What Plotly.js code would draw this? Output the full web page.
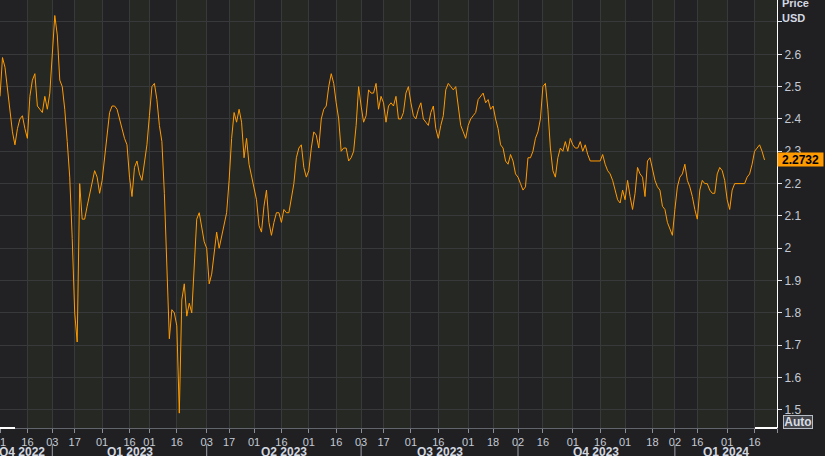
<!DOCTYPE html>
<html>
<head>
<meta charset="utf-8">
<script src="https://cdn.plot.ly/plotly-3.0.1.min.js"></script>
<style>
html,body{margin:0;padding:0;background:#202023;overflow:hidden}
#chart{width:825px;height:456px}
</style>
</head>
<body>
<div id="chart"></div>
<script>
// ---- data (trading days) ----
const dates = [
 "2022-12-01","2022-12-02","2022-12-05","2022-12-06","2022-12-07","2022-12-08","2022-12-09","2022-12-12","2022-12-13","2022-12-14","2022-12-15","2022-12-16","2022-12-19","2022-12-20","2022-12-21","2022-12-22","2022-12-23","2022-12-27","2022-12-28","2022-12-29","2022-12-30",
 "2023-01-03","2023-01-04","2023-01-05","2023-01-06","2023-01-09","2023-01-10","2023-01-11","2023-01-12","2023-01-13","2023-01-17","2023-01-18","2023-01-19","2023-01-20","2023-01-23","2023-01-24","2023-01-25","2023-01-26","2023-01-27","2023-01-30","2023-01-31",
 "2023-02-01","2023-02-02","2023-02-03","2023-02-06","2023-02-07","2023-02-08","2023-02-09","2023-02-10","2023-02-13","2023-02-14","2023-02-15","2023-02-16","2023-02-17","2023-02-21","2023-02-22","2023-02-23","2023-02-24","2023-02-27","2023-02-28",
 "2023-03-01","2023-03-02","2023-03-03","2023-03-06","2023-03-07","2023-03-08","2023-03-09","2023-03-10","2023-03-13","2023-03-14","2023-03-15","2023-03-16","2023-03-17","2023-03-20","2023-03-21","2023-03-22","2023-03-23","2023-03-24","2023-03-27","2023-03-28","2023-03-29","2023-03-30","2023-03-31",
 "2023-04-03","2023-04-04","2023-04-05","2023-04-06","2023-04-10","2023-04-11","2023-04-12","2023-04-13","2023-04-14","2023-04-17","2023-04-18","2023-04-19","2023-04-20","2023-04-21","2023-04-24","2023-04-25","2023-04-26","2023-04-27","2023-04-28",
 "2023-05-01","2023-05-02","2023-05-03","2023-05-04","2023-05-05","2023-05-08","2023-05-09","2023-05-10","2023-05-11","2023-05-12","2023-05-15","2023-05-16","2023-05-17","2023-05-18","2023-05-19","2023-05-22","2023-05-23","2023-05-24","2023-05-25","2023-05-26","2023-05-30","2023-05-31",
 "2023-06-01","2023-06-02","2023-06-05","2023-06-06","2023-06-07","2023-06-08","2023-06-09","2023-06-12","2023-06-13","2023-06-14","2023-06-15","2023-06-16","2023-06-20","2023-06-21","2023-06-22","2023-06-23","2023-06-26","2023-06-27","2023-06-28","2023-06-29","2023-06-30",
 "2023-07-03","2023-07-05","2023-07-06","2023-07-07","2023-07-10","2023-07-11","2023-07-12","2023-07-13","2023-07-14","2023-07-17","2023-07-18","2023-07-19","2023-07-20","2023-07-21","2023-07-24","2023-07-25","2023-07-26","2023-07-27","2023-07-28","2023-07-31",
 "2023-08-01","2023-08-02","2023-08-03","2023-08-04","2023-08-07","2023-08-08","2023-08-09","2023-08-10","2023-08-11","2023-08-14","2023-08-15","2023-08-16","2023-08-17","2023-08-18","2023-08-21","2023-08-22","2023-08-23","2023-08-24","2023-08-25","2023-08-28","2023-08-29","2023-08-30","2023-08-31",
 "2023-09-01","2023-09-05","2023-09-06","2023-09-07","2023-09-08","2023-09-11","2023-09-12","2023-09-13","2023-09-14","2023-09-15","2023-09-18","2023-09-19","2023-09-20","2023-09-21","2023-09-22","2023-09-25","2023-09-26","2023-09-27","2023-09-28","2023-09-29",
 "2023-10-02","2023-10-03","2023-10-04","2023-10-05","2023-10-06","2023-10-09","2023-10-10","2023-10-11","2023-10-12","2023-10-13","2023-10-16","2023-10-17","2023-10-18","2023-10-19","2023-10-20","2023-10-23","2023-10-24","2023-10-25","2023-10-26","2023-10-27","2023-10-30","2023-10-31",
 "2023-11-01","2023-11-02","2023-11-03","2023-11-06","2023-11-07","2023-11-08","2023-11-09","2023-11-10","2023-11-13","2023-11-14","2023-11-15","2023-11-16","2023-11-17","2023-11-20","2023-11-21","2023-11-22","2023-11-24","2023-11-27","2023-11-28","2023-11-29","2023-11-30",
 "2023-12-01","2023-12-04","2023-12-05","2023-12-06","2023-12-07","2023-12-08","2023-12-11","2023-12-12","2023-12-13","2023-12-14","2023-12-15","2023-12-18","2023-12-19","2023-12-20","2023-12-21","2023-12-22","2023-12-26","2023-12-27","2023-12-28","2023-12-29",
 "2024-01-02","2024-01-03","2024-01-04","2024-01-05","2024-01-08","2024-01-09","2024-01-10","2024-01-11","2024-01-12","2024-01-16","2024-01-17","2024-01-18","2024-01-19","2024-01-22","2024-01-23","2024-01-24","2024-01-25","2024-01-26","2024-01-29","2024-01-30","2024-01-31",
 "2024-02-01","2024-02-02","2024-02-05","2024-02-06","2024-02-07","2024-02-08","2024-02-09","2024-02-12","2024-02-13","2024-02-14","2024-02-15","2024-02-16","2024-02-20","2024-02-21","2024-02-22","2024-02-23"
];
const prices = [
 2.47,2.59,2.56,2.49,2.43,2.36,2.32,2.37,2.40,2.41,2.37,2.34,2.47,2.52,2.54,2.44,2.43,2.42,2.47,2.43,2.48,
 2.59,2.72,2.66,2.52,2.50,2.43,2.33,2.22,2.03,1.80,1.71,2.20,2.09,2.09,2.13,2.17,2.21,2.24,2.22,2.17,
 2.21,2.28,2.34,2.42,2.44,2.44,2.43,2.40,2.37,2.34,2.32,2.22,2.16,2.25,2.27,2.23,2.21,2.26,2.32,
 2.41,2.50,2.51,2.46,2.38,2.33,2.17,1.95,1.72,1.81,1.80,1.76,1.49,1.84,1.89,1.79,1.83,1.80,1.97,2.09,2.11,2.07,2.02,
 2.00,1.89,1.92,1.99,2.05,2.00,2.04,2.07,2.11,2.21,2.34,2.42,2.39,2.43,2.39,2.28,2.34,2.26,2.22,
 2.19,2.15,2.07,2.05,2.13,2.18,2.08,2.04,2.08,2.11,2.11,2.08,2.12,2.11,2.11,2.15,2.20,2.28,2.31,2.32,2.25,2.22,
 2.24,2.31,2.36,2.35,2.31,2.40,2.43,2.44,2.50,2.54,2.51,2.45,2.40,2.30,2.31,2.31,2.27,2.28,2.30,2.38,2.50,
 2.44,2.39,2.41,2.49,2.48,2.48,2.51,2.43,2.47,2.45,2.39,2.44,2.45,2.44,2.47,2.40,2.40,2.42,2.48,2.50,
 2.45,2.41,2.40,2.43,2.45,2.40,2.39,2.38,2.42,2.44,2.37,2.34,2.38,2.41,2.49,2.51,2.50,2.49,2.50,2.43,2.38,2.36,2.34,
 2.38,2.40,2.41,2.42,2.46,2.47,2.48,2.45,2.46,2.43,2.44,2.40,2.37,2.32,2.31,2.27,2.26,2.29,2.27,2.23,
 2.22,2.20,2.18,2.19,2.28,2.28,2.30,2.34,2.36,2.40,2.50,2.51,2.43,2.31,2.24,2.22,2.28,2.31,2.30,2.33,2.30,2.34,
 2.32,2.31,2.31,2.33,2.30,2.32,2.29,2.27,2.27,2.27,2.27,2.27,2.29,2.26,2.24,2.23,2.21,2.18,2.15,2.14,2.18,
 2.15,2.21,2.16,2.12,2.17,2.25,2.23,2.22,2.16,2.27,2.28,2.24,2.21,2.19,2.18,2.13,2.12,2.08,2.06,2.04,
 2.12,2.19,2.22,2.23,2.26,2.21,2.19,2.16,2.12,2.09,2.18,2.21,2.20,2.20,2.18,2.17,2.17,2.23,2.25,2.24,2.21,
 2.15,2.12,2.18,2.20,2.20,2.20,2.20,2.20,2.22,2.23,2.26,2.30,2.31,2.32,2.30,2.2732
];
const lastPrice = 2.2732;
const holidays = ["2022-12-26","2023-01-02","2023-01-16","2023-02-20","2023-04-07","2023-05-29","2023-06-19","2023-07-04","2023-09-04","2023-11-23","2023-12-25","2024-01-01","2024-01-15","2024-02-19"];
const xTickVals = ["2022-12-01","2022-12-16","2023-01-03","2023-01-17","2023-02-01","2023-02-16","2023-03-01","2023-03-16","2023-04-03","2023-04-17","2023-05-01","2023-05-16","2023-06-01","2023-06-16","2023-07-03","2023-07-17","2023-08-01","2023-08-16","2023-09-01","2023-09-18","2023-10-02","2023-10-16","2023-11-01","2023-11-16","2023-12-01","2023-12-18","2024-01-02","2024-01-16","2024-02-01","2024-02-16","2024-03-01"];
const xTickText = ["01","16","03","17","01","16","01","16","03","17","01","16","01","16","03","17","01","16","01","18","02","16","01","16","01","18","02","16","01","16",""];
const quarterNames = ["Q4 2022","Q1 2023","Q2 2023","Q3 2023","Q4 2023","Q1 2024"];
const quarterStarts = ["2023-01-03","2023-04-03","2023-07-03","2023-10-02","2024-01-02"];
const yTickVals = [1.5,1.6,1.7,1.8,1.9,2.0,2.1,2.2,2.3,2.4,2.5,2.6,2.7];
const yTickText = ["1.5","1.6","1.7","1.8","1.9","2","2.1","2.2","2.3","2.4","2.5","2.6",""];

// ---- layout helpers ----
const quarterLabelX = ["2022-12-14","2023-02-16","2023-05-17","2023-08-16 12:00","2023-11-14 12:00","2024-01-31 12:00"];
const FONT = "Liberation Sans, Arial, sans-serif";
const TXT = "#c4cad4";

const shapes = [];
for (let i = 1; i < xTickVals.length - 1; i += 2) {
  shapes.push({type:"rect", xref:"x", yref:"paper", x0:xTickVals[i], x1:xTickVals[i+1], y0:0, y1:1,
    fillcolor:"#252823", line:{width:0}, layer:"below"});
}
quarterStarts.forEach(d => shapes.push({type:"line", xref:"x", yref:"paper", x0:d, x1:d, y0:-0.038, y1:-0.07,
  line:{color:"#9a9ea6", width:1}}));
shapes.push({type:"line", xref:"paper", yref:"paper", x0:0, x1:0.0193, y0:0, y1:0, line:{color:"#ffffff", width:2}});
shapes.push({type:"line", xref:"paper", yref:"paper", x0:0.9717, x1:1, y0:0, y1:0, line:{color:"#ffffff", width:2}});

const annotations = quarterNames.map((q, i) => ({
  text:"<b>"+q+"</b>", x:quarterLabelX[i], xref:"x", y:-0.057, yref:"paper",
  showarrow:false, xanchor:"center", yanchor:"middle", font:{family:FONT, size:12, color:"#d3d8e0"}
}));
annotations.push({text:"<b>Price</b>", xref:"paper", x:1, xanchor:"left", xshift:3, yref:"paper", y:0.993, yanchor:"middle",
  showarrow:false, font:{family:FONT, size:11, color:"#d3d8e0"}});
annotations.push({text:"<b>USD</b>", xref:"paper", x:1, xanchor:"left", xshift:3, yref:"paper", y:0.959, yanchor:"middle",
  showarrow:false, font:{family:FONT, size:11, color:"#d3d8e0"}});
annotations.push({text:"<b>"+lastPrice.toFixed(4)+"</b>", xref:"paper", x:1, xanchor:"left", xshift:0, yref:"y", y:lastPrice, yanchor:"middle",
  showarrow:false, bgcolor:"#ff9a00", borderpad:1, width:43, height:11, font:{family:FONT, size:12, color:"#000000"}});
annotations.push({text:"<b>Auto</b>", xref:"paper", x:1, xanchor:"left", xshift:6, yref:"paper", y:0.0129, yanchor:"middle",
  showarrow:false, bgcolor:"#43454b", bordercolor:"#b8bcc4", borderwidth:1, borderpad:0, width:28, height:12,
  font:{family:FONT, size:12, color:"#d8dce4"}});

const trace = {
  type:"scatter", mode:"lines", x:dates, y:prices,
  line:{color:"#ff9a00", width:1}, hoverinfo:"skip"
};

const layout = {
  width:825, height:456,
  margin:{l:0, r:48, t:0, b:28, pad:0},
  paper_bgcolor:"#202023", plot_bgcolor:"#222225",
  showlegend:false,
  font:{family:FONT, size:12, color:TXT},
  xaxis:{
    type:"date", range:["2022-12-01","2024-03-01"],
    rangebreaks:[{bounds:["sat","mon"]},{values:holidays, dvalue:86400000}],
    tickmode:"array", tickvals:xTickVals, ticktext:xTickText,
    ticks:"outside", ticklen:4, tickcolor:"#8a8e96", tickwidth:1,
    showline:true, linecolor:"#62656b", linewidth:1,
    showgrid:true, gridcolor:"#37393a", gridwidth:1, zeroline:false,
    tickfont:{family:FONT, size:11, color:TXT}, ticklabeloverflow:"allow", fixedrange:true
  },
  yaxis:{
    side:"right", range:[1.444, 2.768],
    tickmode:"array", tickvals:yTickVals, ticktext:yTickText,
    ticks:"outside", ticklen:4, tickcolor:"#dfe3ea", tickwidth:1,
    showline:true, linecolor:"#ffffff", linewidth:1,
    showgrid:true, gridcolor:"#37393a", gridwidth:1, zeroline:false,
    tickfont:{family:FONT, size:12, color:TXT}, fixedrange:true
  },
  shapes:shapes, annotations:annotations
};

Plotly.newPlot("chart", [trace], layout, {displayModeBar:false, staticPlot:true});
</script>
</body>
</html>
